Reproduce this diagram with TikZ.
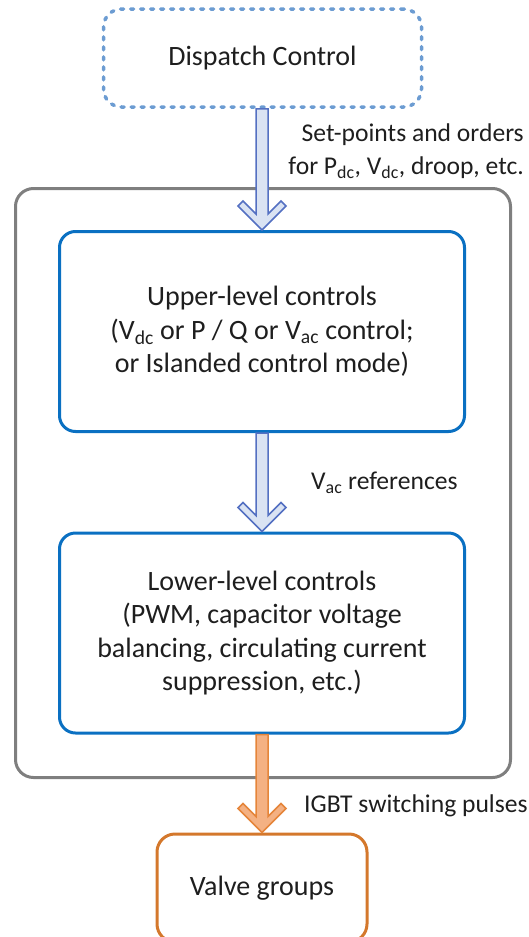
\documentclass[tikz,border=0pt]{standalone}
\usepackage{fontspec}
\setmainfont{Carlito}
\usepackage{tikz}
\usetikzlibrary{math}
\usetikzlibrary{calc}

\definecolor{dispblue}{HTML}{6C9CD2}
\definecolor{ctrlblue}{HTML}{0A70C2}
\definecolor{framegray}{HTML}{7F7F7F}
\definecolor{arrowfill}{HTML}{DAE3F3}
\definecolor{arrowline}{HTML}{5470C2}
\definecolor{valveorange}{HTML}{D4782C}
\definecolor{pulsefill}{HTML}{F4B183}
\definecolor{pulseline}{HTML}{E5853A}
\definecolor{txt}{HTML}{1E1E1E}

\newcommand{\boxfont}{\fontsize{28}{33.5}\selectfont}
\newcommand{\lblfont}{\fontsize{25.6}{33}\selectfont}

% block arrow from the bottom of #2 to the top of #3
\newcommand{\blockarrow}[3]{%
  \draw[#1] let \p1 = (#2.south), \p2 = (#3.north) in
    (\x2-6, \y1) -- (\x2-6, \y2+16) -- (\x2-19, \y2+29) -- (\x2-24, \y2+24)
    -- (\x2, \y2) -- (\x2+24, \y2+24) -- (\x2+19, \y2+29) -- (\x2+6, \y2+16)
    -- (\x2+6, \y1) -- cycle;
}

\begin{document}
\begin{tikzpicture}[x=1pt, y=-1pt,
  ctrlbox/.style={draw=ctrlblue, line width=3pt, rounded corners=16pt,
    minimum width=405pt, minimum height=200pt, align=center,
    font=\boxfont, text=txt},
  lbl/.style={inner sep=0pt, font=\lblfont, text=txt}]

\useasboundingbox (0, 0) rectangle (529, 937);
\clip (0, 0) rectangle (529, 937);

\tikzmath{ \cx = 262; }

% Dispatch
\node (dispatch) [draw=dispblue, line width=3.5pt, dash pattern=on 3pt off 7pt,
  line cap=round, rounded corners=18pt, minimum width=318pt, minimum height=98pt,
  font=\boxfont, text=txt] at (262.5, 58) {Dispatch Control};

% Converter control frame
\node (ctrl) [draw=framegray, line width=3pt, rounded corners=18pt,
  minimum width=495pt, minimum height=589pt] at (263, 483) {};

\node (upper) [ctrlbox] at (\cx, 331.5)
  {Upper-level controls\\(V\textsubscript{dc} or P / Q or V\textsubscript{ac} control;\\or Islanded control mode)};

\node (lower) [ctrlbox] at (\cx, 633)
  {Lower-level controls\\(PWM, capacitor voltage\\balancing, circulating current\\suppression, etc.)};

% Valves
\node (valve) [draw=valveorange, line width=3pt, rounded corners=18pt,
  minimum width=210pt, minimum height=108pt, font=\boxfont, text=txt]
  at (\cx, 888) {Valve groups};

% Arrows
\blockarrow{fill=arrowfill, draw=arrowline, line width=1.5pt, line join=miter}{dispatch}{upper}
\blockarrow{fill=arrowfill, draw=arrowline, line width=1.5pt, line join=miter}{upper}{lower}
\blockarrow{fill=pulsefill, draw=pulseline, line width=1.5pt, line join=miter}{lower}{valve}

% Labels
\node (setlbl) [lbl, anchor=east, align=right] at (524, 151)
  {Set-points and orders\\for P\textsubscript{dc}, V\textsubscript{dc}, droop, etc.};
\node (vaclbl) [lbl, anchor=west] at (311, 483) {V\textsubscript{ac} references};
\node (igbtlbl) [lbl, anchor=west] at (304, 806) {IGBT switching pulses};

\end{tikzpicture}
\end{document}
